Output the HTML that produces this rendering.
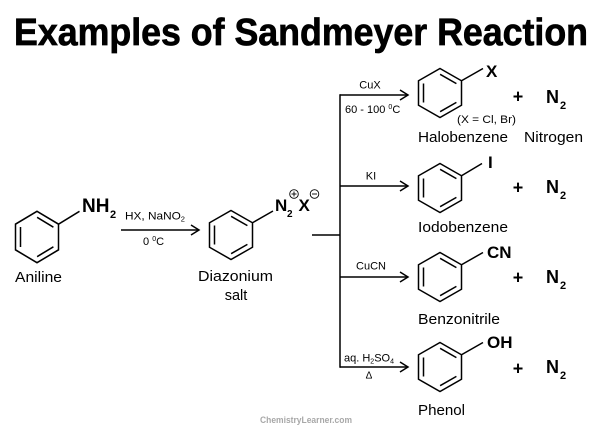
<!DOCTYPE html>
<html>
<head>
<meta charset="utf-8">
<style>
  html, body { margin: 0; padding: 0; background: #fff; }
  svg { display: block; }
  text { font-family: "Liberation Sans", "DejaVu Sans", sans-serif; fill: #000; }
</style>
</head>
<body>
<svg width="600" height="429" viewBox="0 0 600 429" xmlns="http://www.w3.org/2000/svg">
  <rect width="600" height="429" fill="#fff"/>

  <!-- Title -->
  <text x="14" y="45" font-size="38" font-weight="bold" stroke="#000" stroke-width="0.7" textLength="574" lengthAdjust="spacingAndGlyphs">Examples of Sandmeyer Reaction</text>

  <g fill="none" stroke="#000" stroke-width="1.5" stroke-linejoin="miter">
    <!-- Aniline ring -->
    <path transform="translate(37,237) scale(1,1.05)" d="M0,-24.5 L21.5,-12.25 L21.5,12.25 L0,24.5 L-21.5,12.25 L-21.5,-12.25 Z M-16.5,-9.5 L-16.5,9.5 M0.1,-18.7 L16.4,-9.4 M0.1,18.7 L16.4,9.4 M21.5,-12.25 L42.5,-24.5"/>
    <!-- Diazonium ring -->
    <path transform="translate(231,235)" d="M0,-24.5 L21.5,-12.25 L21.5,12.25 L0,24.5 L-21.5,12.25 L-21.5,-12.25 Z M-16.5,-9.5 L-16.5,9.5 M0.1,-18.7 L16.4,-9.4 M0.1,18.7 L16.4,9.4 M21.5,-12.25 L42,-24"/>
    <!-- Halobenzene ring -->
    <path transform="translate(440,93)" d="M0,-24.5 L21.5,-12.25 L21.5,12.25 L0,24.5 L-21.5,12.25 L-21.5,-12.25 Z M-16.5,-9.5 L-16.5,9.5 M0.1,-18.7 L16.4,-9.4 M0.1,18.7 L16.4,9.4 M21.5,-12.25 L43,-24.5"/>
    <!-- Iodobenzene ring -->
    <path transform="translate(440,188)" d="M0,-24.5 L21.5,-12.25 L21.5,12.25 L0,24.5 L-21.5,12.25 L-21.5,-12.25 Z M-16.5,-9.5 L-16.5,9.5 M0.1,-18.7 L16.4,-9.4 M0.1,18.7 L16.4,9.4 M21.5,-12.25 L42,-24.5"/>
    <!-- Benzonitrile ring -->
    <path transform="translate(440,277)" d="M0,-24.5 L21.5,-12.25 L21.5,12.25 L0,24.5 L-21.5,12.25 L-21.5,-12.25 Z M-16.5,-9.5 L-16.5,9.5 M0.1,-18.7 L16.4,-9.4 M0.1,18.7 L16.4,9.4 M21.5,-12.25 L43,-24.5"/>
    <!-- Phenol ring -->
    <path transform="translate(440,367)" d="M0,-24.5 L21.5,-12.25 L21.5,12.25 L0,24.5 L-21.5,12.25 L-21.5,-12.25 Z M-16.5,-9.5 L-16.5,9.5 M0.1,-18.7 L16.4,-9.4 M0.1,18.7 L16.4,9.4 M21.5,-12.25 L43,-24.5"/>

    <!-- Main arrow -->
    <line x1="121" y1="230" x2="199" y2="230"/>
    <polyline points="191,225 199,230 191,235"/>

    <!-- Branch system -->
    <line x1="312" y1="235" x2="340" y2="235"/>
    <line x1="340" y1="94.3" x2="340" y2="367.7"/>
    <line x1="340" y1="95" x2="408" y2="95"/>
    <polyline points="400,90 408,95 400,100"/>
    <line x1="340" y1="186" x2="408" y2="186"/>
    <polyline points="400,181 408,186 400,191"/>
    <line x1="340" y1="277" x2="408" y2="277"/>
    <polyline points="400,272 408,277 400,282"/>
    <line x1="340" y1="367" x2="408" y2="367"/>
    <polyline points="400,362 408,367 400,372"/>

    <!-- charges -->
    <circle cx="294" cy="194" r="4.3" stroke-width="0.9"/>
    <line x1="291.5" y1="194" x2="296.5" y2="194" stroke-width="0.9"/>
    <line x1="294" y1="191.5" x2="294" y2="196.5" stroke-width="0.9"/>
    <circle cx="314.5" cy="194" r="4.3" stroke-width="0.9"/>
    <line x1="312" y1="194" x2="317" y2="194" stroke-width="0.9"/>
  </g>

  <!-- Aniline substituent -->
  <text x="82" y="212" font-size="19" font-weight="bold">NH</text>
  <text x="110" y="218" font-size="11" font-weight="bold">2</text>

  <!-- Diazonium substituent -->
  <text x="275" y="211" font-size="17" font-weight="bold">N</text>
  <text x="287" y="217" font-size="10" font-weight="bold">2</text>
  <text x="298.5" y="211" font-size="17" font-weight="bold">X</text>

  <!-- Reagents main arrow -->
  <text x="125" y="219.5" font-size="11" textLength="60" lengthAdjust="spacingAndGlyphs">HX, NaNO<tspan font-size="7" dy="2">2</tspan></text>
  <text x="143" y="245" font-size="11">0 <tspan font-size="7" dy="-4">0</tspan><tspan dy="4">C</tspan></text>

  <!-- Names -->
  <text x="15" y="282" font-size="14.5" textLength="47" lengthAdjust="spacingAndGlyphs">Aniline</text>
  <text x="198" y="281" font-size="14.5" textLength="75" lengthAdjust="spacingAndGlyphs">Diazonium</text>
  <text x="236" y="300" font-size="14.5" text-anchor="middle">salt</text>

  <!-- Branch reagents -->
  <text x="370" y="88.5" font-size="11" text-anchor="middle">CuX</text>
  <text x="345" y="113" font-size="11">60 - 100 <tspan font-size="7" dy="-4">0</tspan><tspan dy="4">C</tspan></text>
  <text x="371" y="179.5" font-size="11" text-anchor="middle">KI</text>
  <text x="371" y="269.5" font-size="11" text-anchor="middle">CuCN</text>
  <text x="344" y="361.5" font-size="11">aq. H<tspan font-size="7" dy="2">2</tspan><tspan dy="-2">SO</tspan><tspan font-size="7" dy="2">4</tspan></text>
  <text x="369" y="378.5" font-size="10" text-anchor="middle">Δ</text>

  <!-- Product substituents -->
  <text x="486" y="77" font-size="17" font-weight="bold">X</text>
  <text x="457" y="123" font-size="11" textLength="59" lengthAdjust="spacingAndGlyphs">(X = Cl, Br)</text>
  <text x="488" y="168" font-size="17" font-weight="bold">I</text>
  <text x="487" y="258" font-size="17" font-weight="bold">CN</text>
  <text x="487" y="348" font-size="17" font-weight="bold">OH</text>

  <!-- plus signs and N2 -->
  <text x="518" y="102.5" font-size="18" font-weight="bold" text-anchor="middle">+</text>
  <text x="546" y="103" font-size="18" font-weight="bold">N</text>
  <text x="560" y="109" font-size="11" font-weight="bold">2</text>

  <text x="518" y="193.5" font-size="18" font-weight="bold" text-anchor="middle">+</text>
  <text x="546" y="193" font-size="18" font-weight="bold">N</text>
  <text x="560" y="199" font-size="11" font-weight="bold">2</text>

  <text x="518" y="283.5" font-size="18" font-weight="bold" text-anchor="middle">+</text>
  <text x="546" y="283" font-size="18" font-weight="bold">N</text>
  <text x="560" y="289" font-size="11" font-weight="bold">2</text>

  <text x="518" y="374.5" font-size="18" font-weight="bold" text-anchor="middle">+</text>
  <text x="546" y="373" font-size="18" font-weight="bold">N</text>
  <text x="560" y="379" font-size="11" font-weight="bold">2</text>

  <!-- Product names -->
  <text x="418" y="142" font-size="14.5" textLength="90" lengthAdjust="spacingAndGlyphs">Halobenzene</text>
  <text x="524" y="142" font-size="14.5" textLength="59" lengthAdjust="spacingAndGlyphs">Nitrogen</text>
  <text x="418" y="232" font-size="14.5" textLength="90" lengthAdjust="spacingAndGlyphs">Iodobenzene</text>
  <text x="418" y="324" font-size="14.5" textLength="82" lengthAdjust="spacingAndGlyphs">Benzonitrile</text>
  <text x="418" y="415" font-size="14.5" textLength="47" lengthAdjust="spacingAndGlyphs">Phenol</text>

  <!-- Watermark -->
  <text x="260" y="423" font-size="9.5" font-weight="bold" fill="#a8a8a8" style="fill:#a8a8a8" textLength="92" lengthAdjust="spacingAndGlyphs">ChemistryLearner.com</text>
</svg>
</body>
</html>
